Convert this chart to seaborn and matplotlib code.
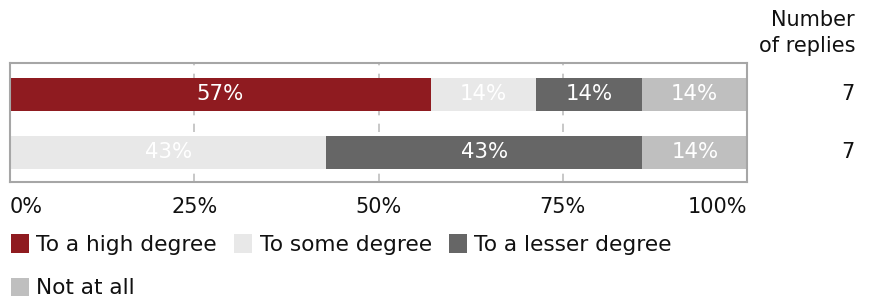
import numpy as np
import pandas as pd
import seaborn as sns
import matplotlib.pyplot as plt
from matplotlib.patches import Patch

# data
rows = ["Row 1", "Row 2"]
categories = ["To a high degree", "To some degree", "To a lesser degree", "Not at all"]
high = [57.1, 0.0]
some = [14.3, 42.9]
lesser = [14.3, 42.9]
not_at_all = [14.3, 14.3]
replies = [7, 7]
ticks = [0, 25, 50, 75, 100]
tick_labels = ["0%", "25%", "50%", "75%", "100%"]

colors = ["#8F1B20", "#E8E8E8", "#666666", "#BFBFBF"]

sns.set_theme(style="white")
plt.rcParams["font.family"] = ["DejaVu Sans"]
FS = 15
TXT = "#111111"

df = pd.DataFrame({"row": rows, categories[0]: high, categories[1]: some,
                   categories[2]: lesser, categories[3]: not_at_all})
cum = df[categories].cumsum(axis=1)

fig = plt.figure(figsize=(8.71, 3.04), dpi=100)
ax = fig.add_axes([10 / 871, 1 - 182 / 304, 737 / 871, 119 / 304])

# dashed grid behind the bars
for t in ticks[1:-1]:
    ax.axvline(t, color="#BFBFBF", linestyle=(0, (5, 5)), linewidth=1.2, zorder=0)

# stacked bars: draw cumulative totals from the last category backwards
for cat, col in reversed(list(zip(categories, colors))):
    sns.barplot(x=cum[cat], y=df["row"], color=col, orient="h", width=0.57,
                saturation=1, linewidth=0, edgecolor="none", ax=ax, zorder=2)

# value labels
for i in range(len(rows)):
    left = 0
    for cat in categories:
        v = df.loc[i, cat]
        if v > 0:
            ax.text(left + v / 2, i, f"{v:.0f}%", ha="center", va="center",
                    color="white", fontsize=FS + 0.3, zorder=3)
        left += v

ax.set_xlim(0, 100)
ax.set_ylim(1.51, -0.54)
ax.set_xlabel("")
ax.set_ylabel("")
ax.set_yticks([])
ax.set_xticks(ticks)
ax.set_xticklabels(tick_labels, fontsize=FS, color=TXT)
ax.tick_params(axis="x", length=0, pad=11)
labs = ax.get_xticklabels()
labs[0].set_ha("left")
labs[-1].set_ha("right")
for s in ax.spines.values():
    s.set_color("#A6A6A6")
    s.set_linewidth(1.5)

# number of replies column
fig.text(855 / 871, 1 - 20 / 304, "Number", ha="right", va="center", fontsize=FS, color=TXT)
fig.text(855 / 871, 1 - 46 / 304, "of replies", ha="right", va="center", fontsize=FS, color=TXT)
for i, n in enumerate(replies):
    y_disp = ax.transData.transform((0, i))[1]
    y_fig = fig.transFigure.inverted().transform((0, y_disp))[1]
    fig.text(848 / 871, y_fig, str(n), ha="center", va="center", fontsize=FS, color=TXT)

# legend, ordered so column-major filling gives 3 on row one, 1 on row two
handles = [Patch(facecolor=c, edgecolor="none") for c in colors]
order = [0, 3, 1, 2]
leg = fig.legend([handles[k] for k in order], [categories[k] for k in order],
                 ncol=3, loc="upper left", bbox_to_anchor=(7 / 871, 1 - 230 / 304),
                 frameon=False, fontsize=15.6, handlelength=0.83, handleheight=0.93,
                 handletextpad=0.33, columnspacing=0.8, labelspacing=1.05,
                 borderaxespad=0, borderpad=0.2)
for t in leg.get_texts():
    t.set_color(TXT)

fig.savefig("out.png", dpi=100)
